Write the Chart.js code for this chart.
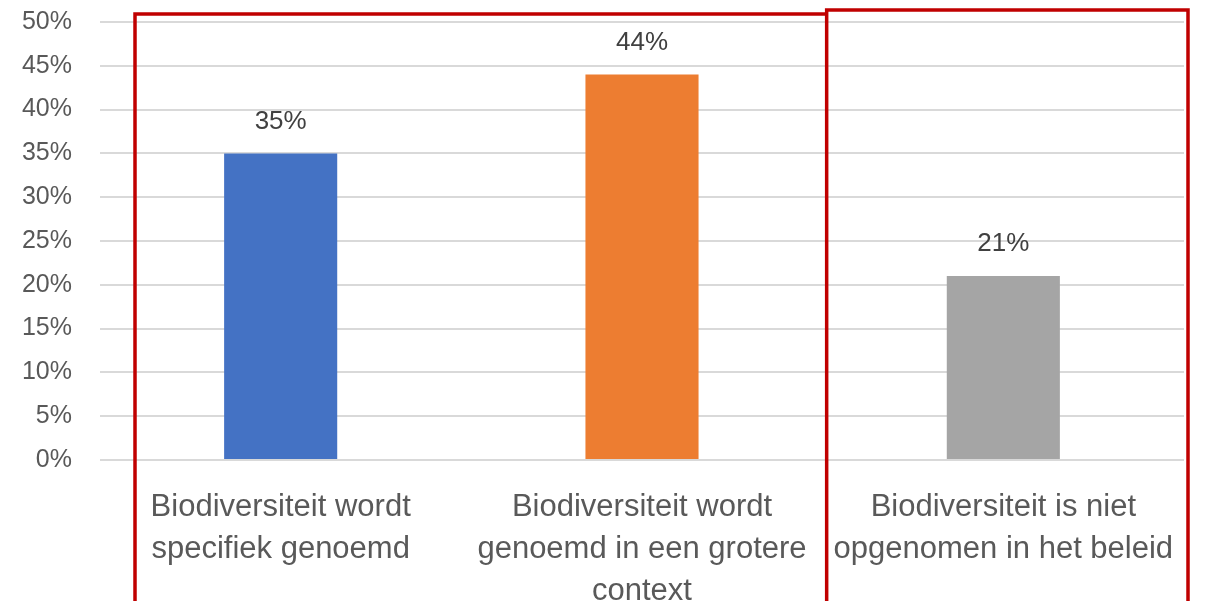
<!DOCTYPE html>
<html>
<head>
  <title>Biodiversiteit in beleid</title>
  <style>
    html, body { margin: 0; padding: 0; background: #fff; }
    #wrap { width: 1205px; height: 601px; }
  </style>
</head>
<body>
  <div id="wrap"><canvas id="chart" width="1205" height="601"></canvas></div>

  <script src="https://cdn.jsdelivr.net/npm/chart.js@4.4.1/dist/chart.umd.min.js"></script>
  <script>
    // data
    var categories = [
      ['Biodiversiteit wordt', 'specifiek genoemd'],
      ['Biodiversiteit wordt', 'genoemd in een grotere', 'context'],
      ['Biodiversiteit is niet', 'opgenomen in het beleid']
    ];
    var values = [35, 44, 21];
    var barColors = ['#4472c4', '#ed7d31', '#a5a5a5'];
    var yMax = 50;
    var yStep = 5;

    var FONT = "'Liberation Sans', Arial, sans-serif";

    // value labels above the bars
    var valueLabels = {
      id: 'valueLabels',
      afterDatasetsDraw: function(chart) {
        var ctx = chart.ctx;
        var meta = chart.getDatasetMeta(0);
        ctx.save();
        ctx.font = '26px ' + FONT;
        ctx.fillStyle = '#404040';
        ctx.textAlign = 'center';
        ctx.textBaseline = 'middle';
        meta.data.forEach(function(bar, i) {
          ctx.fillText(values[i] + '%', bar.x, bar.y - 32);
        });
        ctx.restore();
      }
    };

    // red highlight boxes drawn over the chart
    var redBoxes = {
      id: 'redBoxes',
      afterDraw: function(chart) {
        var ctx = chart.ctx;
        var a = chart.chartArea;
        var band = (a.right - a.left) / categories.length;
        var split = a.left + band * 2 + 4;
        ctx.save();
        ctx.strokeStyle = '#c00000';
        ctx.lineWidth = 3.5;
        ctx.beginPath();
        ctx.moveTo(a.left + 35, chart.height + 10);
        ctx.lineTo(a.left + 35, 14);
        ctx.lineTo(split, 14);
        ctx.stroke();
        ctx.beginPath();
        ctx.moveTo(split, chart.height + 10);
        ctx.lineTo(split, 10);
        ctx.lineTo(a.right + 4, 10);
        ctx.lineTo(a.right + 4, chart.height + 10);
        ctx.stroke();
        ctx.restore();
      }
    };

    new Chart(document.getElementById('chart'), {
      type: 'bar',
      data: {
        labels: categories,
        datasets: [{
          data: values,
          backgroundColor: barColors,
          categoryPercentage: 1,
          barPercentage: 0.313
        }]
      },
      options: {
        responsive: false,
        animation: false,
        layout: { padding: { top: 0, right: 21, left: 0, bottom: 0 } },
        plugins: {
          legend: { display: false },
          tooltip: { enabled: false }
        },
        scales: {
          x: {
            grid: { display: false },
            border: { display: false },
            ticks: {
              color: '#595959',
              font: { family: FONT, size: 31, lineHeight: 1.36 },
              padding: 18,
              maxRotation: 0,
              autoSkip: false
            },
            afterFit: function(scale) { scale.height = 141; }
          },
          y: {
            min: 0,
            max: yMax,
            grid: { color: '#d9d9d9', lineWidth: 2, drawTicks: false },
            border: { display: false },
            ticks: {
              stepSize: yStep,
              color: '#595959',
              font: { family: FONT, size: 25 },
              padding: 28,
              callback: function(v) { return v + '%'; }
            },
            afterFit: function(scale) {
              scale.width = 100;
              scale.paddingTop = 22;
              scale.paddingBottom = 0;
            }
          }
        }
      },
      plugins: [valueLabels, redBoxes]
    });
  </script>
</body>
</html>
